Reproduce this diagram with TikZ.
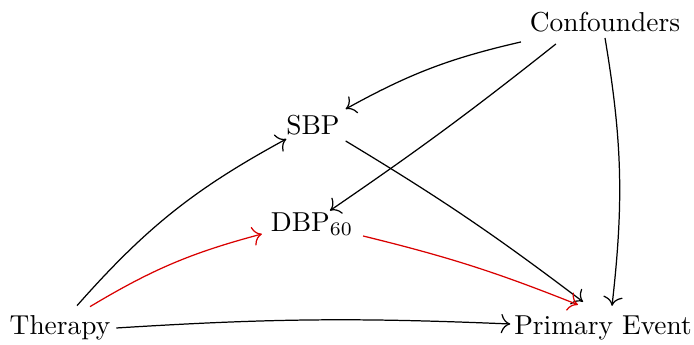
\documentclass[tikz,border=0pt]{standalone}
\usepackage{amsmath,amssymb}
\usetikzlibrary{arrows.meta}

\begin{document}
\begin{tikzpicture}[x=0.01284cm, y=-0.01284cm, >={To[scale=1.3]},
    var/.style={inner sep=2pt},
    path/.style={->, line width=0.45pt},
    redpath/.style={->, line width=0.45pt, red!85!black}]
  \useasboundingbox (0,0) rectangle (694,345);
  \node[var] (therapy) at (60,328) {Therapy};
  \node[var] (event) at (603,328) {Primary Event};
  \node[var] (conf) at (605,22) {Confounders};
  \node[var] (sbp) at (313,125) {SBP};
  \node[var] (dbp) at (312,224) {DBP$_{60}$};

  \draw[path] ([shift={(17,-4)}]therapy.north) to[bend left=10] ([shift={(6,-2)}]sbp.south west);
  \draw[redpath] ([shift={(30,-3)}]therapy.north) to[bend left=8] ([shift={(-3,10)}]dbp.west);
  \draw[path] (therapy.east) to[bend left=3] ([shift={(2,-4)}]event.west);
  \draw[path] (sbp.south east) to[bend left=3] ([shift={(-20,-8)}]event.north);
  \draw[redpath] ([shift={(4,12)}]dbp.east) to[bend left=4] ([shift={(-25,-5)}]event.north);
  \draw[path] ([shift={(-3,4)}]conf.south west) to[bend right=8] (sbp.north east);
  \draw[path] ([shift={(32,6)}]conf.south west) to[bend left=2] ([shift={(18,4)}]dbp.north);
  \draw[path] (conf.south) to[bend left=8] ([shift={(9,-4)}]event.north);
\end{tikzpicture}
\end{document}
